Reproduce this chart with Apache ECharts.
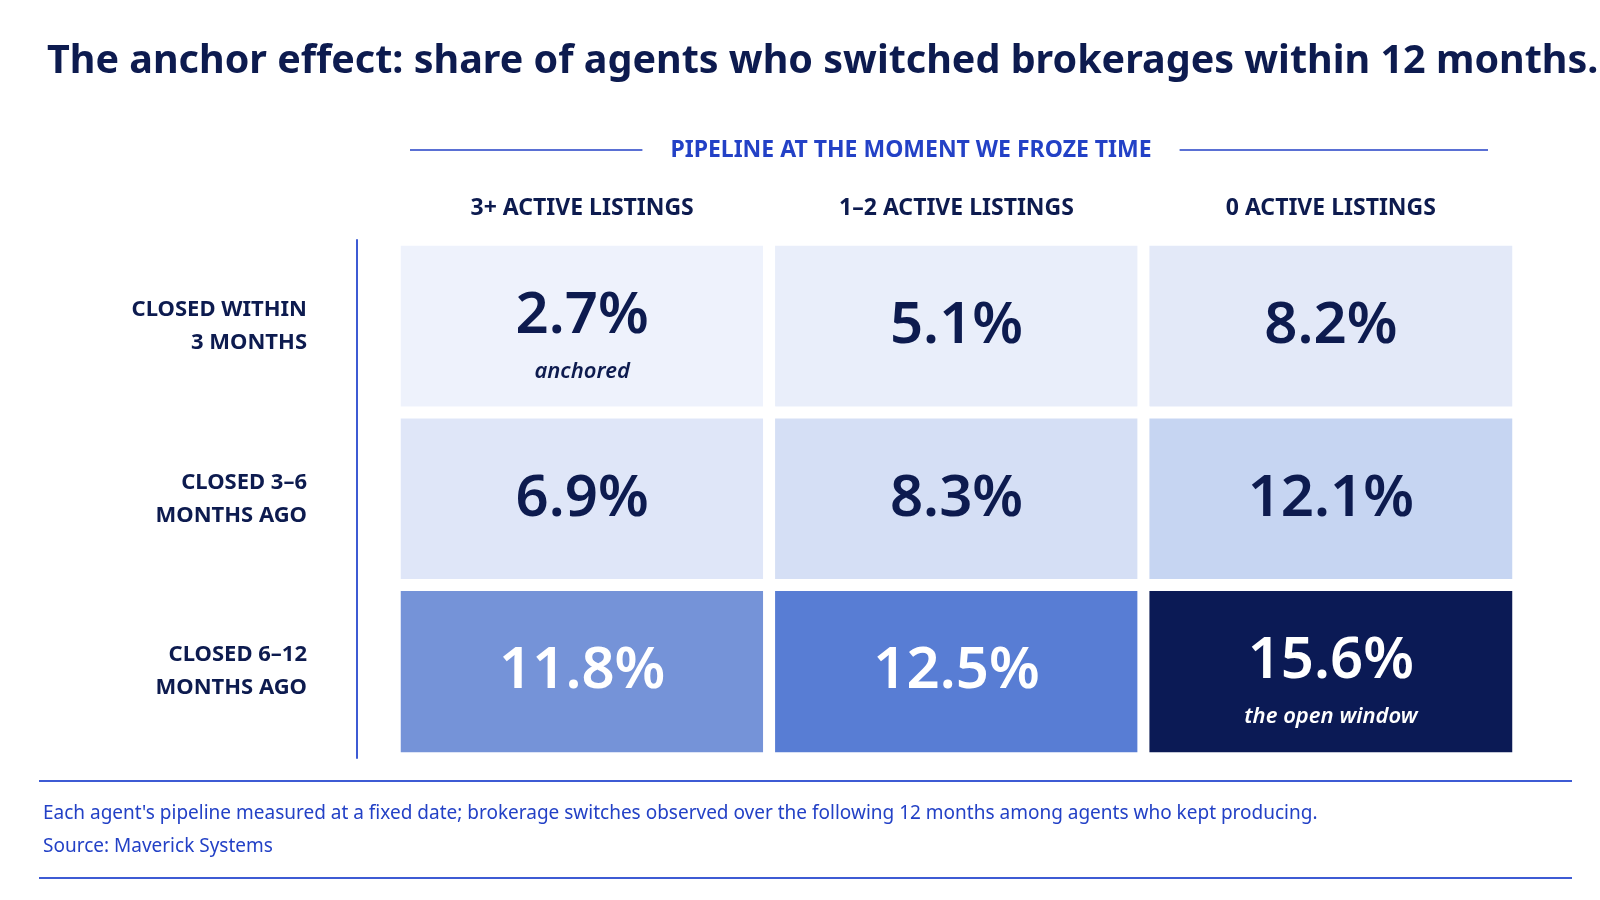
<!DOCTYPE html>
<html>
<head>
<meta charset="utf-8">
<title>The anchor effect</title>
<script src="https://cdn.jsdelivr.net/npm/echarts@6/dist/echarts.min.js"></script>
<style>
  html, body { margin: 0; padding: 0; background: #ffffff; }
  #main { width: 1600px; height: 900px; }
</style>
</head>
<body>
<div id="main"></div>
<script>
// data
var columnLabels = ['3+ ACTIVE LISTINGS', '1–2 ACTIVE LISTINGS', '0 ACTIVE LISTINGS'];
var rowLabels = ['CLOSED WITHIN\n3 MONTHS', 'CLOSED 3–6\nMONTHS AGO', 'CLOSED 6–12\nMONTHS AGO'];
var shares = [
  [2.7, 5.1, 8.2],
  [6.9, 8.3, 12.1],
  [11.8, 12.5, 15.6]
];
var notes = [
  ['anchored', '', ''],
  ['', '', ''],
  ['', '', 'the open window']
];

// styling
var cellColors = [
  ['#eef2fc', '#e9eefa', '#e3e9f8'],
  ['#dfe6f8', '#d5dff5', '#c6d5f2'],
  ['#7593d8', '#587dd4', '#0b1a55']
];
var labelColors = [
  ['#0d1b4f', '#0d1b4f', '#0d1b4f'],
  ['#0d1b4f', '#0d1b4f', '#0d1b4f'],
  ['#ffffff', '#ffffff', '#ffffff']
];
var navy = '#0d1b4f';
var blue = '#2341c6';
var lineBlue = '#3d5bd4';
var font = "'Noto Sans', sans-serif";

var chart = echarts.init(document.getElementById('main'));

var heatData = [];
shares.forEach(function (row, r) {
  row.forEach(function (v, c) {
    heatData.push({
      value: [c, r, v],
      note: notes[r][c],
      itemStyle: { color: cellColors[r][c] },
      label: { color: labelColors[r][c] }
    });
  });
});

function textWidth(str, f) {
  var ctx = document.createElement('canvas').getContext('2d');
  ctx.font = f;
  return ctx.measureText(str).width;
}

var titleText = 'The anchor effect: share of agents who switched brokerages within 12 months.';
// fit the title to the reference's width (about 1556px)
var titleSize = Math.min(48, 48 * 1552 / textWidth(titleText, "bold 48px 'Noto Sans'"));

var headerText = 'PIPELINE AT THE MOMENT WE FROZE TIME';
var headerX = 911;
var headerW = textWidth(headerText, "bold 23px 'Noto Sans'");

option = {
  backgroundColor: '#ffffff',
  title: {
    text: titleText,
    left: 42,
    top: 74 - 0.93 * titleSize,
    textStyle: {
      fontFamily: font,
      fontSize: titleSize,
      fontWeight: 'bold',
      color: navy
    }
  },
  grid: {
    left: 395,
    right: 82,
    top: 240,
    bottom: 142
  },
  xAxis: {
    type: 'category',
    position: 'top',
    data: columnLabels,
    axisLine: { show: false },
    axisTick: { show: false },
    splitLine: { show: false },
    axisLabel: {
      margin: 20,
      fontFamily: font,
      fontSize: 23,
      fontWeight: 'bold',
      color: navy
    }
  },
  yAxis: {
    type: 'category',
    inverse: true,
    data: rowLabels,
    offset: 38,
    axisLine: { show: true, lineStyle: { color: lineBlue, width: 2 } },
    axisTick: { show: false },
    splitLine: { show: false },
    axisLabel: {
      margin: 50,
      align: 'right',
      fontFamily: font,
      fontSize: 22,
      fontWeight: 'bold',
      lineHeight: 33,
      color: navy
    }
  },
  series: [{
    type: 'heatmap',
    data: heatData,
    itemStyle: { borderColor: '#ffffff', borderWidth: 12 },
    emphasis: { disabled: true },
    label: {
      show: true,
      fontFamily: font,
      formatter: function (p) {
        var txt = '{v|' + p.value[2].toFixed(1) + '%}';
        if (p.data.note) txt += '\n{n|' + p.data.note + '}';
        return txt;
      },
      rich: {
        v: { fontFamily: font, fontSize: 58, fontWeight: 600, lineHeight: 90 },
        n: { fontFamily: font, fontSize: 22, fontStyle: 'italic', fontWeight: 600, lineHeight: 20 }
      }
    }
  }],
  graphic: [
    {
      type: 'text',
      x: headerX,
      y: 150,
      style: {
        text: headerText,
        fontFamily: font,
        fontSize: 23,
        fontWeight: 'bold',
        fill: blue,
        align: 'center',
        verticalAlign: 'middle'
      }
    },
    {
      type: 'line',
      shape: { x1: 410, y1: 150, x2: headerX - headerW / 2 - 28, y2: 150 },
      style: { stroke: blue, lineWidth: 1.5 }
    },
    {
      type: 'line',
      shape: { x1: headerX + headerW / 2 + 28, y1: 150, x2: 1488, y2: 150 },
      style: { stroke: blue, lineWidth: 1.5 }
    },
    {
      type: 'line',
      shape: { x1: 39, y1: 781, x2: 1572, y2: 781 },
      style: { stroke: lineBlue, lineWidth: 2 }
    },
    {
      type: 'text',
      x: 43,
      y: 814,
      style: {
        text: "Each agent's pipeline measured at a fixed date; brokerage switches observed over the following 12 months among agents who kept producing.",
        fontFamily: font,
        fontSize: 19,
        fill: blue,
        verticalAlign: 'middle'
      }
    },
    {
      type: 'text',
      x: 43,
      y: 847,
      style: {
        text: 'Source: Maverick Systems',
        fontFamily: font,
        fontSize: 19,
        fill: blue,
        verticalAlign: 'middle'
      }
    },
    {
      type: 'line',
      shape: { x1: 39, y1: 878, x2: 1572, y2: 878 },
      style: { stroke: lineBlue, lineWidth: 2 }
    }
  ]
};

chart.setOption(option);
</script>
</body>
</html>
